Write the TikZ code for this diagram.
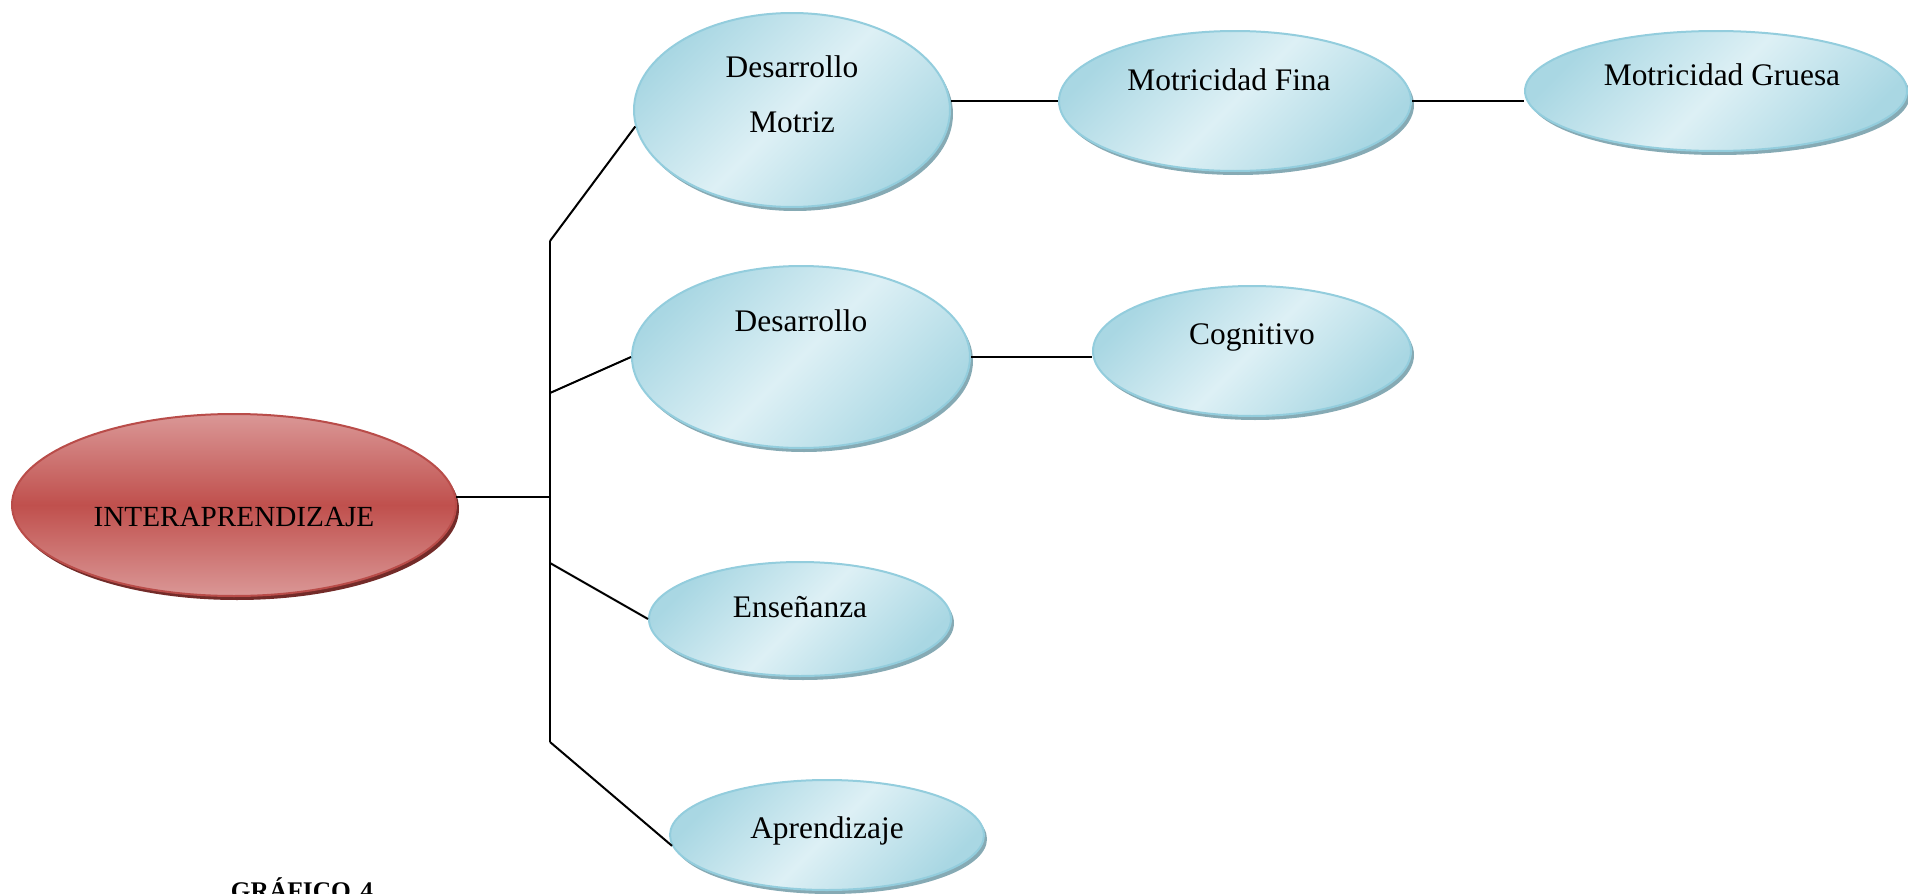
\documentclass[tikz,border=0pt]{standalone}
\usepackage{fontspec}
\setmainfont{Liberation Serif}
\usetikzlibrary{shapes.geometric,shadows}
\definecolor{bubbleedge}{HTML}{93CDDD}
\definecolor{bubblelight}{HTML}{DDF0F5}
\definecolor{bubbledark}{HTML}{A9D7E3}
\definecolor{bubbleshade}{HTML}{86AAB4}
\definecolor{rootedge}{HTML}{B94C49}
\definecolor{rootlight}{HTML}{DA9796}
\definecolor{rootmid}{HTML}{C0504D}
\definecolor{rootshade}{HTML}{732B29}

\begin{document}
\begin{tikzpicture}[x=0.5pt,y=-0.5pt,
  bubble/.style={ellipse, draw=bubbleedge, line width=1pt, inner sep=0pt,
    top color=bubbledark, bottom color=bubbledark, middle color=bubblelight, shading angle=45,
    drop shadow={shadow xshift=1.5pt, shadow yshift=-2pt, fill=bubbleshade, opacity=1}},
  rootbubble/.style={ellipse, draw=rootedge, line width=1pt, inner sep=0pt,
    top color=rootlight, bottom color=rootlight, middle color=rootmid,
    drop shadow={shadow xshift=1.5pt, shadow yshift=-2pt, fill=rootshade, opacity=1}},
  txt/.style={font=\fontsize{15.7}{27.5}\selectfont, align=center, inner sep=0pt},
  link/.style={line width=1pt}]
\useasboundingbox (0,0) rectangle (1908,894);

\node[rootbubble, minimum width=222pt, minimum height=91pt,
  label={[txt, font=\fontsize{14.6}{17}\selectfont, yshift=-6pt]center:INTERAPRENDIZAJE}] (root) at (234,505) {};
\node[bubble, minimum width=158pt, minimum height=97pt,
  label={[txt, yshift=7.75pt]center:{Desarrollo\\Motriz}}] (motriz) at (792,110) {};
\node[bubble, minimum width=176pt, minimum height=70pt,
  label={[txt, xshift=-3pt, yshift=10.5pt]center:Motricidad Fina}] (fina) at (1235,101) {};
\node[bubble, minimum width=191pt, minimum height=60pt,
  label={[txt, xshift=3pt, yshift=8pt]center:Motricidad Gruesa}] (gruesa) at (1716,91) {};
\node[bubble, minimum width=169pt, minimum height=91pt,
  label={[txt, yshift=18pt]center:Desarrollo}] (desarrollo) at (801,357) {};
\node[bubble, minimum width=159pt, minimum height=65pt,
  label={[txt, yshift=7pt]center:Cognitivo}] (cognitivo) at (1252,351) {};
\node[bubble, minimum width=151pt, minimum height=57pt,
  label={[txt, yshift=6pt]center:Enseñanza}] (ensenanza) at (800,619) {};
\node[bubble, minimum width=157pt, minimum height=55pt,
  label={[txt, yshift=2pt]center:Aprendizaje}] (aprendizaje) at (827,835) {};

\coordinate (top) at (550,241);
\coordinate (b2) at (550,393);
\coordinate (b3) at (550,563);
\coordinate (bottom) at (550,742);

\draw[link] (root.2.5) -- (root.2.5 -| top);
\draw[link] (top) -- (bottom);
\draw[link] (top) -- (motriz.186);
\draw[link] (b2) -- (desarrollo.west);
\draw[link] (b3) -- (ensenanza.west);
\draw[link] (bottom) -- (aprendizaje.184);
\draw[link] (fina.west) -- (fina.west -| motriz.east);
\draw[link] (fina.east) -- (fina.east -| gruesa.west);
\draw[link] (desarrollo.east) -- (desarrollo.east -| cognitivo.west);

\node[font=\bfseries\fontsize{12.7}{15}\selectfont, anchor=base, inner sep=0pt] (grafico) at (302,899) {GRÁFICO\hspace{0.12em} 4};
\end{tikzpicture}
\end{document}
